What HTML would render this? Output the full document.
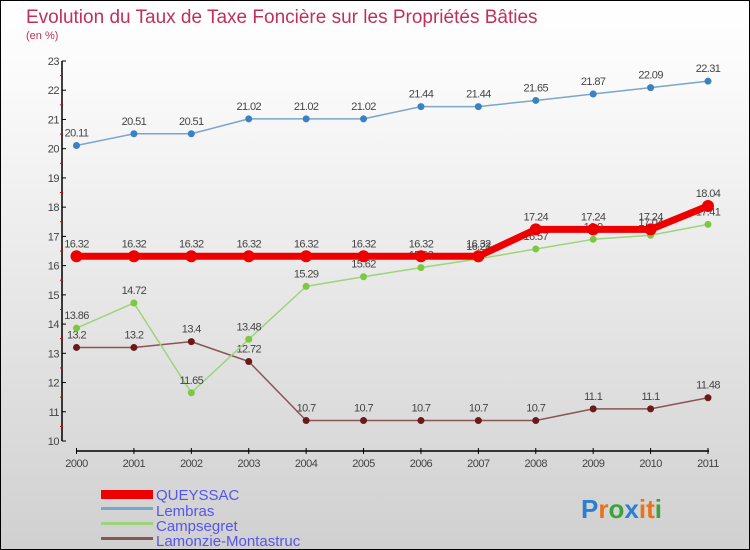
<!DOCTYPE html>
<html><head><meta charset="utf-8"><style>
body{margin:0}
#c{width:750px;height:550px;position:relative;box-sizing:border-box;border:1px solid #000;background:linear-gradient(#ffffff,#fafafa 15%,#d0d0d0);font-family:"Liberation Sans",sans-serif;overflow:hidden}
text{font-family:"Liberation Sans",sans-serif}
</style></head><body>
<div id="c">
<svg id="s" width="750" height="550">
<text x="25" y="22" font-size="19" fill="#c0305a">Evolution du Taux de Taxe Foncière sur les Propriétés Bâties</text>
<text x="25" y="38" font-size="11" fill="#c0305a">(en %)</text>
<g id="axes"></g><g id="series"></g>
<g>
<rect x="100" y="489" width="52" height="9" fill="#e00"/>
<text x="155" y="499" font-size="15" fill="#5555ee">QUEYSSAC</text>
<rect x="100" y="506" width="52" height="3" fill="#7aa6cc"/>
<text x="155" y="515" font-size="15" fill="#5555ee">Lembras</text>
<rect x="100" y="521" width="52" height="3" fill="#9dd47a"/>
<text x="155" y="530" font-size="15" fill="#5555ee">Campsegret</text>
<rect x="100" y="536" width="52" height="3" fill="#8a5555"/>
<text x="155" y="545" font-size="15" fill="#5555ee">Lamonzie-Montastruc</text>
</g>
<text x="580" y="517" font-size="26" font-weight="bold"><tspan fill="#2a7fd4">P</tspan><tspan fill="#e8731a">r</tspan><tspan fill="#3aa33a">o</tspan><tspan fill="#2a7fd4">x</tspan><tspan fill="#e8731a">i</tspan><tspan fill="#e8731a">t</tspan><tspan fill="#3aa33a">i</tspan></text>
</svg>
</div>
<script>
const years=[2000,2001,2002,2003,2004,2005,2006,2007,2008,2009,2010,2011];
const yTicks=[10,11,12,13,14,15,16,17,18,19,20,21,22,23];
const queyssac=[16.32,16.32,16.32,16.32,16.32,16.32,16.32,16.32,17.24,17.24,17.24,18.04];
const lembras=[20.11,20.51,20.51,21.02,21.02,21.02,21.44,21.44,21.65,21.87,22.09,22.31];
const campsegret=[13.86,14.72,11.65,13.48,15.29,15.62,15.93,16.23,16.57,16.9,17.04,17.41];
const lamonzie=[13.2,13.2,13.4,12.72,10.7,10.7,10.7,10.7,10.7,11.1,11.1,11.48];
const NS='http://www.w3.org/2000/svg';
const x=i=>75.5+i*(707-75.5)/(years.length-1);
const y=v=>440-(v-10)*(380/13);
function mk(t,a,p){const e=document.createElementNS(NS,t);for(const k in a)e.setAttribute(k,a[k]);p.appendChild(e);return e;}
const ax=document.getElementById('axes');
let l=mk('line',{x1:61,y1:y(23),x2:61,y2:440,stroke:'#000','stroke-width':1.5},ax);


yTicks.forEach(v=>{
  mk('line',{x1:61,x2:65,y1:y(v),y2:y(v),stroke:'#000'},ax);
  if(v<23)mk('line',{x1:59,x2:62,y1:y(v+0.5),y2:y(v+0.5),stroke:'#d00'},ax);
  const t=mk('text',{x:58,y:y(v)+4,'text-anchor':'end','font-size':11,fill:'#444','letter-spacing':'-0.5'},ax);
  t.textContent=v;
  
  
});
l=mk('line',{x1:75,y1:450,x2:708,y2:450,stroke:'#000','stroke-width':1.5},ax);


years.forEach((yr,i)=>{
  mk('line',{x1:x(i),x2:x(i),y1:447,y2:453,stroke:'#000'},ax);
  const t=mk('text',{x:x(i),y:466,'text-anchor':'middle','font-size':11,fill:'#444','letter-spacing':'-0.5'},ax);
  t.textContent=yr;
  
  
});
const sg=document.getElementById('series');
function series(name,data,color,w,r,dot){
  const g=mk('g',{},sg);
  
  
  const p=mk('polyline',{points:data.map((v,i)=>x(i)+','+y(v)).join(' '),fill:'none',stroke:color,'stroke-width':w,'stroke-linejoin':'round'},g);
  
  
  data.forEach((v,i)=>{
    const c=mk('circle',{cx:x(i),cy:y(v),r:r,fill:dot},g);
    
    
    const t=mk('text',{x:x(i),y:y(v)-9,'text-anchor':'middle','font-size':11,fill:'#444','letter-spacing':'-0.6'},g);
    t.textContent=v;
    
    
  });
}
series('lembras',lembras,'#7aa6cc',1.5,3.5,'#3a82c0');
series('lamonzie',lamonzie,'#8a5555',1.5,3.5,'#6a1a1a');
series('campsegret',campsegret,'#9dd47a',1.5,3.5,'#7cc840');
series('queyssac',queyssac,'#ee0000',7,6,'#ee0000');
</script>
</body></html>
